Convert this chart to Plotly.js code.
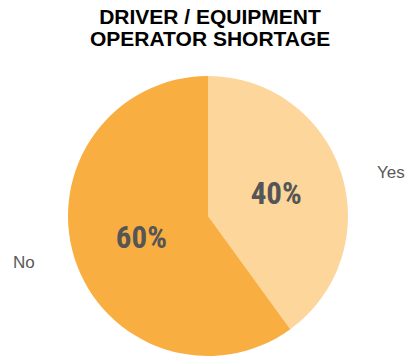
<!DOCTYPE html>
<html><head><meta charset="utf-8">
<script src="https://cdn.plot.ly/plotly-3.0.1.min.js"></script>
<style>html,body{margin:0;padding:0;background:#fff}</style>
</head><body><div id="chart" style="width:408px;height:356px"></div>
<script>
const labels = ["Yes", "No"];
const values = [40, 60];
const colors = ["#FDD69C", "#F9AE42"];
const titleLines = ["DRIVER / EQUIPMENT", "OPERATOR SHORTAGE"];

const data = [{
  type: "pie",
  labels: labels,
  values: values,
  sort: false,
  direction: "clockwise",
  rotation: 0,
  marker: {colors: colors, line: {color: "#ffffff", width: 0}},
  textinfo: "percent",
  texttemplate: "%{percent:.0%}",
  textposition: "inside",
  insidetextorientation: "horizontal",
  textfont: {family: "Liberation Sans Narrow, Arial Narrow, Roboto Condensed, sans-serif", size: 31, color: "#555555", weight: "bold"},
  hoverinfo: "none",
  showlegend: false
}];

const W = 408, H = 356, ML = 68, MR = 60, MT = 76, MB = 0;
const pw = W - ML - MR, ph = H - MT - MB;
const px = x => (x - ML) / pw;
const py = y => 1 - (y - MT) / ph;
const titleFont = {family: "Liberation Sans, Arial, sans-serif", size: 21, color: "#000000"};
const labelFont = {family: "Liberation Sans, Arial, sans-serif", size: 17, color: "#595959"};

const layout = {
  width: W, height: H,
  margin: {l: ML, r: MR, t: MT, b: MB},
  paper_bgcolor: "#ffffff",
  title: {
    text: "<b>" + titleLines[0] + "</b>",
    font: titleFont,
    x: 210 / W, xanchor: "center", y: 1 - 17 / H, yanchor: "middle"
  },
  annotations: [
    {text: "<b>" + titleLines[1] + "</b>", x: px(210), y: py(38), xref: "paper", yref: "paper",
     xanchor: "center", yanchor: "middle", showarrow: false, font: titleFont},
    {text: labels[0], x: px(391), y: py(172), xref: "paper", yref: "paper", showarrow: false,
     xanchor: "center", yanchor: "middle", font: labelFont},
    {text: labels[1], x: px(24), y: py(262), xref: "paper", yref: "paper", showarrow: false,
     xanchor: "center", yanchor: "middle", font: labelFont}
  ]
};

Plotly.newPlot("chart", data, layout, {displayModeBar: false, staticPlot: true});
</script></body></html>
